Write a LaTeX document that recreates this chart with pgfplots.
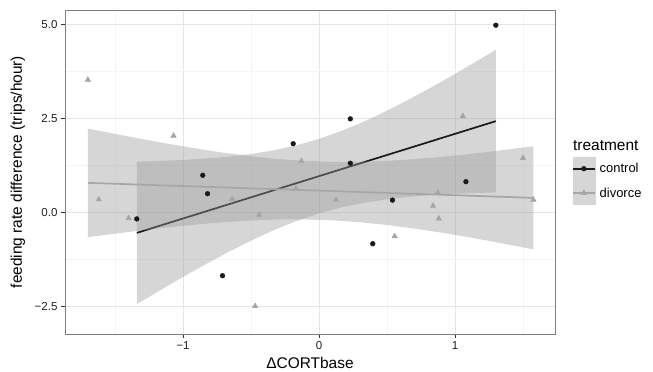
\documentclass[border=0pt]{standalone}
\usepackage{pgfplots}
\pgfplotsset{compat=1.18}
\usepackage{fontspec}
\setmainfont{Liberation Sans}
\definecolor{ctrl}{HTML}{1A1A1A}
\definecolor{divc}{HTML}{A6A6A6}
\definecolor{ribbon}{HTML}{999999}
\definecolor{gridmaj}{HTML}{E5E5E5}
\definecolor{gridmin}{HTML}{F4F4F4}
\definecolor{border}{HTML}{7F7F7F}
\definecolor{keybg}{HTML}{D6D6D6}
\begin{document}
\begin{tikzpicture}
\useasboundingbox (0,0) rectangle (653bp,372bp);
\begin{axis}[
  at={(65bp,38bp)}, anchor=south west,
  scale only axis, width=490bp, height=324bp,
  xmin=-1.868, xmax=1.735, ymin=-3.23, ymax=5.385,
  xtick={-1,0,1}, xticklabels={−1,0,1},
  ytick={-2.5,0,2.5,5}, yticklabels={−2.5,0.0,2.5,5.0},
  minor xtick={-1.5,-0.5,0.5,1.5}, minor ytick={-1.25,1.25,3.75},
  xtick pos=bottom, ytick pos=left,
  grid=both,
  major grid style={gridmaj, line width=0.7bp},
  minor grid style={gridmin, line width=0.7bp},
  tick align=outside, major tick length=4bp, minor tick length=0pt,
  tick style={color=black!80, line width=0.7bp},
  axis line style={border, line width=0.9bp},
  ticklabel style={font=\fontsize{11.6}{13}\selectfont, text=black!88},
  xlabel={ΔCORTbase}, ylabel={feeding rate difference (trips/hour)},
  label style={font=\fontsize{15.5}{18}\selectfont},
  xlabel style={at={(axis description cs:0.5,-0.0895)}, anchor=center},
  ylabel style={at={(axis description cs:-0.096,0.5)}, anchor=center},
  legend style={at={(axis description cs:1.0347,0.5463)}, anchor=north west,
    draw=none, fill=none, inner sep=0pt, outer sep=0pt, row sep=1bp,
    font=\fontsize{13}{15}\selectfont,
    /tikz/every odd column/.append style={column sep=4bp},
    nodes={inner sep=0pt}},
  legend cell align=left,
]
% points
\addplot[only marks, mark=*, mark size=2.4bp, mark options={fill=ctrl, draw=ctrl}, forget plot] coordinates {
(1.30,4.98)(-0.19,1.83)(0.23,2.49)(0.23,1.31)(-0.855,0.99)(-0.82,0.50)
(-1.34,-0.17)(-0.71,-1.68)(1.08,0.82)(0.54,0.33)(0.395,-0.83)};
\addplot[only marks, mark=triangle*, mark size=3.2bp, mark options={fill=divc, draw=divc}, forget plot] coordinates {
(-1.70,3.53)(-1.07,2.04)(-0.13,1.37)(1.057,2.56)(1.50,1.45)(-1.62,0.35)
(-1.40,-0.15)(-0.64,0.36)(-0.44,-0.06)(-0.47,-2.49)(-0.17,0.64)(0.125,0.34)
(0.873,0.53)(0.838,0.18)(0.88,-0.16)(0.556,-0.63)(1.576,0.34)};
% control ribbon and line
\addplot[fill=ribbon, fill opacity=0.4, draw=none, forget plot] coordinates {
(-1.34,1.355)(-1.17,1.373)(-1.00,1.398)(-0.83,1.435)(-0.67,1.483)(-0.50,1.556)(-0.34,1.650)(-0.17,1.783)(0.00,1.957)(0.17,2.175)(0.33,2.417)(0.50,2.707)(0.66,3.004)(0.83,3.337)(1.00,3.686)(1.15,4.003)(1.30,4.326)
(1.30,0.534)(1.15,0.519)(1.00,0.498)(0.83,0.464)(0.66,0.416)(0.50,0.352)(0.33,0.259)(0.17,0.141)(0.00,-0.023)(-0.17,-0.231)(-0.34,-0.480)(-0.50,-0.747)(-0.67,-1.057)(-0.83,-1.369)(-1.00,-1.714)(-1.17,-2.071)(-1.34,-2.437)} -- cycle;
\addplot[ctrl, line width=1.7bp, forget plot] coordinates {(-1.34,-0.541)(1.30,2.430)};
% divorce ribbon and line
\addplot[fill=ribbon, fill opacity=0.4, draw=none, forget plot] coordinates {
(-1.70,2.233)(-1.50,2.090)(-1.30,1.952)(-1.10,1.821)(-0.90,1.700)(-0.70,1.590)(-0.50,1.497)(-0.30,1.422)(-0.10,1.372)(0.10,1.348)(0.30,1.349)(0.50,1.375)(0.70,1.420)(0.90,1.481)(1.10,1.553)(1.30,1.636)(1.576,1.760)
(1.576,-0.980)(1.30,-0.788)(1.10,-0.657)(0.90,-0.536)(0.70,-0.426)(0.50,-0.332)(0.30,-0.259)(0.10,-0.208)(-0.10,-0.184)(-0.30,-0.185)(-0.50,-0.211)(-0.70,-0.256)(-0.90,-0.316)(-1.10,-0.390)(-1.30,-0.472)(-1.50,-0.561)(-1.70,-0.655)} -- cycle;
\addplot[divc, line width=1.7bp, forget plot] coordinates {(-1.70,0.789)(1.576,0.390)};
% legend
\addlegendimage{legend image code/.code={
  \fill[keybg] (0bp,-11.5bp) rectangle (22bp,11.5bp);
  \draw[ctrl, line width=1.7bp] (0bp,0bp) -- (22bp,0bp);
  \fill[ctrl] (11bp,0bp) circle (2.4bp);}}
\addlegendentry{control}
\addlegendimage{legend image code/.code={
  \fill[keybg] (0bp,-11.5bp) rectangle (22bp,11.5bp);
  \draw[divc, line width=1.7bp] (0bp,0bp) -- (22bp,0bp);
  \draw[divc, mark=triangle*, mark size=3.2bp, mark options={fill=divc, draw=divc}] plot coordinates {(11bp,0bp)};}}
\addlegendentry{divorce}
\end{axis}
\node[anchor=base west, font=\fontsize{15.5}{18}\selectfont, inner sep=0pt] at (573bp,221.3bp) {treatment};
\end{tikzpicture}
\end{document}
